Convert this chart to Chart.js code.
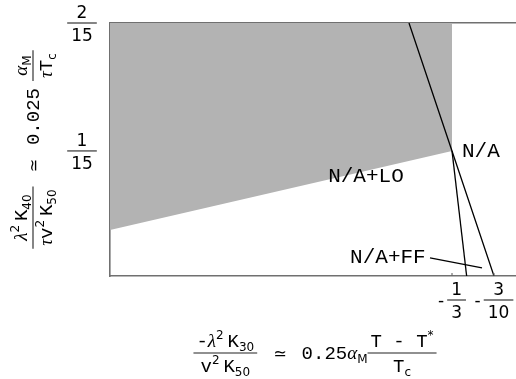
<!DOCTYPE html>
<html>
<head>
<meta charset="utf-8">
<script src="https://cdn.jsdelivr.net/npm/chart.js@4/dist/chart.umd.min.js"></script>
<style>
  html, body { margin: 0; padding: 0; background: #fff; overflow: hidden; }
  canvas { display: block; }
</style>
</head>
<body>
<canvas id="chart" width="516" height="379"></canvas>
<script>
// plot range in reduced units
const xRange = [-0.605, -0.2825];
const yRange = [0.0015, 2 / 15];

const xTicks = [-1 / 3, -3 / 10];
const xTickLabels = [['1', '3'], ['3', '10']];   // drawn as "- num/den"
const yTicks = [1 / 15, 2 / 15];
const yTickLabels = [['1', '15'], ['2', '15']];

// lower edge of the shaded region (shaded up to the top of the plot)
const loBoundary = [{ x: -0.605, y: 0.0255 }, { x: -1 / 3, y: 1 / 15 }];
// phase lines through the point (-1/3, 1/15)
const naLine = [{ x: -0.3675, y: 2 / 15 }, { x: -1 / 3, y: 1 / 15 }, { x: -0.3, y: 0.0015 }];
const ffLine = [{ x: -1 / 3, y: 1 / 15 }, { x: -0.3217, y: 0.0015 }];
const ffPointer = [{ x: -0.3508, y: 0.0109 }, { x: -0.3095, y: 0.0057 }];

const regionLabels = ['N/A+LO', 'N/A', 'N/A+FF'];
const regionLabelAt = [[-0.4317, 0.0505], [-0.3254, 0.0635], [-0.4143, 0.0083]];

const FONTS = {
  mono: '19px "Liberation Mono"',
  greek: 'italic 19px "Liberation Serif"',
  sub: '12px "DejaVu Sans"',
  sup: '12px "DejaVu Sans"',
  sym: '16px "DejaVu Sans"',
  tick: '17px "DejaVu Sans"',
  label: '21px "Liberation Mono"'
};
const SHIFT = { sub: 4, sup: -8 };

function runsWidth(ctx, runs) {
  let w = 0;
  for (const [t, f] of runs) { ctx.font = FONTS[f]; w += ctx.measureText(t).width; }
  return w;
}
function drawRuns(ctx, runs, x, y) {
  for (const [t, f] of runs) {
    ctx.font = FONTS[f];
    ctx.fillText(t, x, y + (SHIFT[f] || 0));
    x += ctx.measureText(t).width;
  }
}
function itemWidth(ctx, it) {
  if (it.space) return it.space;
  if (it.runs) return runsWidth(ctx, it.runs);
  return Math.max(runsWidth(ctx, it.num), runsWidth(ctx, it.den)) + 6;
}
// lays a formula out along a line, fraction bars at barY, centred on cx
function drawFormula(ctx, items, cx, barY) {
  const total = items.reduce((s, it) => s + itemWidth(ctx, it), 0);
  let x = cx - total / 2;
  for (const it of items) {
    const w = itemWidth(ctx, it);
    if (it.runs) drawRuns(ctx, it.runs, x, barY + 6);
    else if (it.num) {
      drawRuns(ctx, it.num, x + (w - runsWidth(ctx, it.num)) / 2, barY - 6);
      drawRuns(ctx, it.den, x + (w - runsWidth(ctx, it.den)) / 2, barY + 19);
      ctx.beginPath();
      ctx.moveTo(x, barY); ctx.lineTo(x + w, barY);
      ctx.stroke();
    }
    x += w;
  }
}
function drawTickFrac(ctx, num, den, cx, barY) {
  ctx.font = FONTS.tick;
  const w = Math.max(ctx.measureText(num).width, ctx.measureText(den).width) + 8;
  ctx.textAlign = 'center';
  ctx.fillText(num, cx, barY - 5);
  ctx.fillText(den, cx, barY + 18);
  ctx.textAlign = 'left';
  ctx.beginPath();
  ctx.moveTo(cx - w / 2, barY); ctx.lineTo(cx + w / 2, barY);
  ctx.stroke();
  return w;
}

const xTitle = [
  { num: [['-', 'mono'], ['λ', 'greek'], ['2', 'sup'], [' ', 'sub'], ['K', 'mono'], ['30', 'sub']],
    den: [['v', 'mono'], ['2', 'sup'], [' ', 'sub'], ['K', 'mono'], ['50', 'sub']] },
  { space: 16 }, { runs: [['≃', 'sym']] }, { space: 15 },
  { runs: [['0.25', 'mono'], ['α', 'greek'], ['M', 'sub']] },
  { num: [['T - T', 'mono'], ['*', 'sup']], den: [['T', 'mono'], ['c', 'sub']] }
];
const yTitle = [
  { num: [['λ', 'greek'], ['2', 'sup'], [' ', 'sub'], ['K', 'mono'], ['40', 'sub']],
    den: [['τ', 'greek'], ['v', 'mono'], ['2', 'sup'], [' ', 'sub'], ['K', 'mono'], ['50', 'sub']] },
  { space: 14 }, { runs: [['≃', 'sym']] }, { space: 14 },
  { runs: [['0.025', 'mono']] }, { space: 7 },
  { num: [['α', 'greek'], ['M', 'sub']], den: [['τ', 'greek'], ['T', 'mono'], ['c', 'sub']] }
];

const textPlugin = {
  id: 'mathText',
  afterDraw(chart) {
    const { ctx, chartArea: a, scales: { x, y } } = chart;
    ctx.save();
    ctx.fillStyle = '#000';
    ctx.strokeStyle = '#222';
    ctx.lineWidth = 1.1;
    ctx.textBaseline = 'alphabetic';

    // small inward ticks
    ctx.strokeStyle = '#666';
    xTicks.forEach(v => {
      const px = x.getPixelForValue(v);
      ctx.beginPath(); ctx.moveTo(px, a.bottom); ctx.lineTo(px, a.bottom - 3); ctx.stroke();
    });
    ctx.strokeStyle = '#222';

    // y tick labels
    yTicks.forEach((v, i) => {
      drawTickFrac(ctx, yTickLabels[i][0], yTickLabels[i][1], a.left - 28, y.getPixelForValue(v));
    });
    // x tick labels with leading minus
    xTicks.forEach((v, i) => {
      const px = x.getPixelForValue(v);
      ctx.font = FONTS.tick;
      const fw = Math.max(ctx.measureText(xTickLabels[i][0]).width, ctx.measureText(xTickLabels[i][1]).width) + 8;
      const mw = ctx.measureText('-').width;
      const left = px - (mw + 3 + fw) / 2;
      const barY = a.bottom + 24;
      ctx.fillText('-', left, barY + 6);
      drawTickFrac(ctx, xTickLabels[i][0], xTickLabels[i][1], left + mw + 3 + fw / 2, barY);
    });

    // axis titles
    drawFormula(ctx, xTitle, (a.left + a.right) / 2 + 2, a.bottom + 77);
    ctx.save();
    ctx.translate(33, (a.top + a.bottom) / 2);
    ctx.rotate(-Math.PI / 2);
    drawFormula(ctx, yTitle, 0, 0);
    ctx.restore();

    // region labels
    ctx.font = FONTS.label;
    regionLabels.forEach((t, i) => {
      ctx.fillText(t, x.getPixelForValue(regionLabelAt[i][0]), y.getPixelForValue(regionLabelAt[i][1]));
    });
    ctx.restore();
  }
};

const lineStyle = { borderColor: '#000', borderWidth: 1.3, pointRadius: 0, fill: false, tension: 0, order: 0 };

const frame = { display: true, color: '#707070', width: 1.6 };

new Chart(document.getElementById('chart'), {
  type: 'line',
  data: {
    datasets: [
      { data: naLine, ...lineStyle },
      { data: ffLine, ...lineStyle },
      { data: ffPointer, ...lineStyle },
      { data: loBoundary, fill: 'end', backgroundColor: '#b3b3b3', borderWidth: 0, pointRadius: 0, order: 5 }
    ]
  },
  options: {
    responsive: false,
    devicePixelRatio: 1,
    animation: false,
    events: [],
    layout: { padding: 0 },
    plugins: { legend: { display: false }, tooltip: { enabled: false } },
    scales: {
      x: {
        type: 'linear', position: 'bottom', min: xRange[0], max: xRange[1], z: 1,
        afterBuildTicks: s => { s.ticks = xTicks.map(v => ({ value: v })); },
        afterFit: s => { s.height = 103; },
        ticks: { display: false },
        grid: { display: true, drawOnChartArea: false, drawTicks: false },
        border: frame
      },
      xTop: {
        type: 'linear', position: 'top', min: xRange[0], max: xRange[1], z: 1,
        afterFit: s => { s.height = 23; },
        ticks: { display: false },
        grid: { display: true, drawOnChartArea: false, drawTicks: false },
        border: frame
      },
      y: {
        type: 'linear', position: 'left', min: yRange[0], max: yRange[1], z: 1,
        afterBuildTicks: s => { s.ticks = yTicks.map(v => ({ value: v })); },
        afterFit: s => { s.width = 110; },
        ticks: { display: false },
        grid: { display: true, drawOnChartArea: false, drawTicks: false },
        border: frame
      }
    }
  },
  plugins: [textPlugin]
});
</script>
</body>
</html>
